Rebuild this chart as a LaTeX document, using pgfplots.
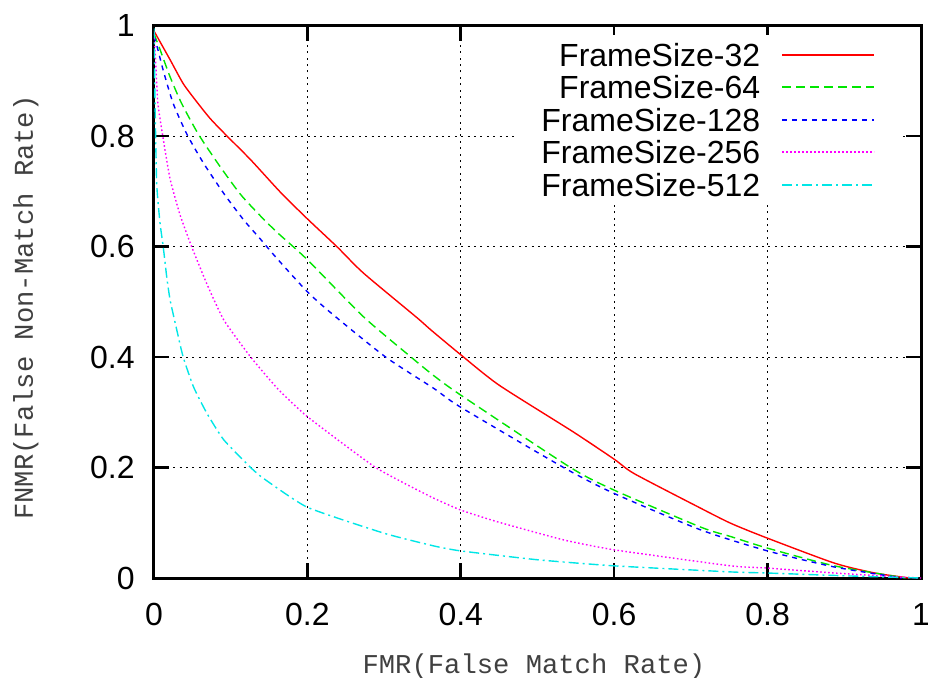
\documentclass[border=0pt]{standalone}
\usepackage{fontspec}
\setmainfont{Liberation Sans}
\newfontfamily\labfont{Liberation Mono}
\usepackage{pgfplots}
\pgfplotsset{compat=1.18}
\definecolor{cRed}{RGB}{255,0,0}
\definecolor{cGreen}{RGB}{0,230,0}
\definecolor{cBlue}{RGB}{0,0,255}
\definecolor{cMag}{RGB}{255,0,255}
\definecolor{cCyan}{RGB}{0,230,230}
\begin{document}
\begin{tikzpicture}
\begin{axis}[
 scale only axis, width=383.5pt, height=276.25pt,
 xmin=0, xmax=1, ymin=0, ymax=1,
 xtick={0,0.2,0.4,0.6,0.8,1}, ytick={0,0.2,0.4,0.6,0.8,1},
 xticklabels={0,0.2,0.4,0.6,0.8,1}, yticklabels={0,0.2,0.4,0.6,0.8,1},
 tick align=inside, major tick length=7.5pt,
 every tick/.style={black, line width=1.3pt},
 axis line style={line width=1.5pt},
 grid=major, major grid style={black, line width=0.5pt, dash pattern=on 1pt off 2.2pt},
 /pgf/number format/assume math mode=true,
 ticklabel style={font=\fontsize{16}{19}\selectfont},
 xticklabel style={inner sep=0pt, anchor=north, yshift=-12.5pt},
 yticklabel style={inner sep=0pt, anchor=east, xshift=-9.5pt},
 xlabel={FMR(False Match Rate)}, ylabel={FNMR(False Non-Match Rate)},
 label style={font=\labfont\fontsize{13.6}{16}\selectfont, text=black!75, inner sep=0pt},
 xlabel style={at={(axis description cs:0.4954,-0.172)}, anchor=base},
 ylabel style={at={(axis description cs:-0.1578,0.4896)}, anchor=base},
 legend plot pos=right, legend cell align=right,
 legend image code/.code={\draw[#1, line width=1.2pt] (0pt,0pt) -- (46pt,0pt);},
 legend style={at={(axis cs:0.9765,0.983)}, anchor=north east, fill=white, draw=none,
   inner xsep=13.5pt, inner ysep=4pt, row sep=4.75pt, column sep=10.5pt,
   font=\fontsize{16}{19}\selectfont,
   nodes={inner sep=0pt, text height=11.5pt, text depth=0pt}},
 every axis plot/.append style={line width=0.7pt},
]
\addplot[color=cRed, smooth, tension=0.4] coordinates {
(0,0.99) (0.021,0.938) (0.038,0.895) (0.054,0.865) (0.073,0.832) (0.093,0.803)
(0.126,0.757) (0.165,0.698) (0.2,0.650) (0.239,0.599) (0.273,0.552) (0.343,0.471)
(0.361,0.449) (0.4,0.404) (0.45,0.349) (0.546,0.265) (0.6,0.215) (0.626,0.189)
(0.709,0.129) (0.752,0.099) (0.8,0.072) (0.887,0.027) (0.94,0.009) (0.985,0)
};
\addlegendentry{FrameSize-32}
\addplot[color=cGreen, dash pattern=on 4.5pt off 2.5pt, smooth, tension=0.4] coordinates {
(0,0.985) (0.008,0.956) (0.021,0.907) (0.036,0.859) (0.058,0.803) (0.086,0.745)
(0.113,0.694) (0.139,0.655) (0.161,0.625) (0.2,0.576) (0.273,0.473) (0.335,0.4)
(0.365,0.366) (0.4,0.331) (0.543,0.2) (0.6,0.159) (0.713,0.092) (0.752,0.075)
(0.8,0.054) (0.887,0.022) (0.98,0)
};
\addlegendentry{FrameSize-64}
\addplot[color=cBlue, dash pattern=on 2.5pt off 2.5pt, smooth, tension=0.4] coordinates {
(0,0.98) (0.004,0.962) (0.012,0.919) (0.025,0.859) (0.043,0.803) (0.0645,0.751)
(0.091,0.696) (0.117,0.648) (0.139,0.613) (0.158,0.582) (0.2,0.518) (0.234,0.476)
(0.302,0.4) (0.365,0.343) (0.4,0.309) (0.534,0.2) (0.6,0.153) (0.713,0.087)
(0.8,0.049) (0.887,0.02) (0.975,0)
};
\addlegendentry{FrameSize-128}
\addplot[color=cMag, dash pattern=on 0.8pt off 1.2pt, smooth, tension=0.3] coordinates {
(0,0.985) (0.002,0.94) (0.005,0.86) (0.012,0.795) (0.021,0.722) (0.034,0.657)
(0.049,0.6) (0.069,0.532) (0.091,0.467) (0.126,0.4) (0.161,0.343) (0.2,0.292)
(0.289,0.2) (0.361,0.147) (0.4,0.123) (0.447,0.102) (0.534,0.069) (0.6,0.051)
(0.752,0.022) (0.8,0.018) (0.887,0.009) (0.97,0.002) (1,0)
};
\addlegendentry{FrameSize-256}
\addplot[color=cCyan, dash pattern=on 5pt off 2pt on 1pt off 2pt, smooth, tension=0.3] coordinates {
(0,0.995) (0.0013,0.865) (0.0035,0.714) (0.0079,0.642) (0.012,0.6) (0.0166,0.545)
(0.021,0.503) (0.0297,0.449) (0.038,0.4) (0.0515,0.346) (0.069,0.298) (0.091,0.25)
(0.126,0.2) (0.143,0.18) (0.2,0.128) (0.3,0.081) (0.365,0.058) (0.4,0.049)
(0.5,0.033) (0.6,0.022) (0.752,0.011) (0.8,0.009) (0.9,0.004) (1,0)
};
\addlegendentry{FrameSize-512}
\end{axis}
\pgfresetboundingbox
\path ([shift={(-77pt,-49.5pt)}]current axis.south west) rectangle ([shift={(3.5pt,12.75pt)}]current axis.north east);
\end{tikzpicture}
\end{document}
